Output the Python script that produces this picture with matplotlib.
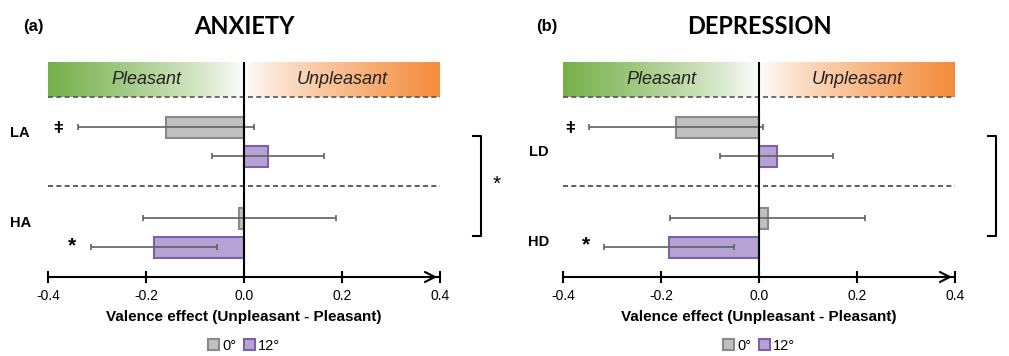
import numpy as np
import matplotlib.pyplot as plt
from matplotlib.patches import Patch

plt.rcParams['font.family'] = ['Liberation Sans', 'DejaVu Sans']

# Valence effect (Unpleasant - Pleasant) per group, 0 deg and 12 deg conditions
anx_groups = ['LA', 'HA']
anx_0 = [-0.159, -0.010]
anx_0_err = [0.179, 0.197]
anx_12 = [0.049, -0.184]
anx_12_err = [0.115, 0.128]

dep_groups = ['LD', 'HD']
dep_0 = [-0.169, 0.018]
dep_0_err = [0.178, 0.199]
dep_12 = [0.036, -0.184]
dep_12_err = [0.115, 0.133]

xticks = [-0.4, -0.2, 0.0, 0.2, 0.4]
legend_labels = ['0°', '12°']

GRAY, GRAY_E = '#c0c0c0', '#8a8a8a'
PURP, PURP_E = '#b5a3d6', '#7c60a8'
centers = np.array([4.67, 1.53])
off = 0.5
band_lo, band_hi = 6.2, 7.42

W, H = 1009, 356
fig = plt.figure(figsize=(W / 100, H / 100), dpi=100)


def gradient_band(ax):
    n = 256
    t = np.linspace(0, 1, n)
    green = np.array([118, 176, 74]) / 255
    orange = np.array([244, 140, 60]) / 255
    white = np.ones(3)
    img = np.zeros((1, n, 3))
    for i, v in enumerate(t):
        if v < 0.5:
            a = (1 - v / 0.5) ** 0.8
            img[0, i] = white * (1 - a) + green * a
        else:
            a = ((v - 0.5) / 0.5) ** 0.8
            img[0, i] = white * (1 - a) + orange * a
    ax.imshow(img, extent=(-0.4, 0.4, band_lo, band_hi), aspect='auto', zorder=0)
    ax.text(-0.2, (band_lo + band_hi) / 2, 'Pleasant', style='italic', fontsize=13,
            ha='center', va='center', color='#222222')
    ax.text(0.2, (band_lo + band_hi) / 2, 'Unpleasant', style='italic', fontsize=13,
            ha='center', va='center', color='#222222')
    ax.plot([-0.4, 0.4], [band_lo, band_lo], ls=(0, (3, 2)), color='#555555', lw=1.2)


def panel(left, groups, v0, e0, v12, e12, title, tag, tagx, lab_x, lab_dy, marks, bracket_star):
    ax = fig.add_axes([left / W, 1 - 277 / H, 392 / W, 215 / H])
    ax.set_xlim(-0.4, 0.4)
    ax.set_ylim(0, band_hi)
    gradient_band(ax)
    ekw = dict(ecolor='#606060', elinewidth=1.2, capsize=2.5, capthick=1.2)
    ax.barh(centers + off, v0, height=0.72, xerr=e0, color=GRAY, edgecolor=GRAY_E,
            linewidth=1.5, error_kw=ekw, zorder=2)
    ax.barh(centers - off, v12, height=0.72, xerr=e12, color=PURP, edgecolor=PURP_E,
            linewidth=1.5, error_kw=ekw, zorder=2)
    ax.axvline(0, color='black', lw=1.5, zorder=3)
    ax.plot([-0.4, 0.4], [3.14, 3.14], ls=(0, (3, 2)), color='#444444', lw=1.2)

    for g, c, dy in zip(groups, centers, lab_dy):
        ax.text(lab_x, c + dy, g, transform=ax.get_yaxis_transform(), fontsize=10.5,
                fontweight='bold', ha='center', va='center')
    for sym, x, y, fs in marks:
        ax.text(x, y, sym, fontsize=fs, ha='center', va='center', fontweight='bold')

    # bracket between groups for the 12 deg condition
    bx = 0.484
    ax.plot([0.467, bx, bx, 0.467], [4.85, 4.85, 1.4, 1.4], color='black', lw=1.5,
            clip_on=False)
    if bracket_star:
        ax.text(0.516, 3.2, '*', fontsize=15, ha='center', va='center', clip_on=False)

    for s in ['top', 'right', 'left']:
        ax.spines[s].set_visible(False)
    ax.spines['bottom'].set_linewidth(1.5)
    ax.set_yticks([])
    ax.set_xticks(xticks)
    ax.set_xticklabels([f'{t:.1f}' for t in xticks], fontsize=10)
    ax.tick_params(axis='x', direction='inout', length=9, width=1.5, pad=4)
    ax.annotate('', xy=(0.4, 0), xytext=(0.37, 0), xycoords='data',
                arrowprops=dict(arrowstyle='->', lw=1.5, color='black', mutation_scale=18),
                annotation_clip=False)
    ax.set_xlabel('Valence effect (Unpleasant - Pleasant)', fontsize=11,
                  fontweight='bold', labelpad=5)
    handles = [Patch(facecolor=GRAY, edgecolor=GRAY_E, lw=1.5),
               Patch(facecolor=PURP, edgecolor=PURP_E, lw=1.5)]
    ax.legend(handles, legend_labels, loc='center', bbox_to_anchor=(0.5, -0.32), ncol=2,
              frameon=False, fontsize=10.5, handlelength=0.75, handleheight=0.75,
              handletextpad=0.2, columnspacing=0.5, borderaxespad=0)
    fig.text((left + 196) / W, 1 - 26 / H, title, fontsize=17, fontweight='bold',
             family='Lato', ha='center', va='center')
    fig.text(tagx / W, 1 - 26 / H, tag, fontsize=12, fontweight='bold',
             ha='center', va='center')
    return ax


panel(48, anx_groups, anx_0, anx_0_err, anx_12, anx_12_err, 'ANXIETY', '(a)', 33,
      -0.071, [0.3, 0.33], [('ǂ', -0.38, 5.14, 12), ('*', -0.351, 1.07, 15)], True)
panel(563, dep_groups, dep_0, dep_0_err, dep_12, dep_12_err, 'DEPRESSION', '(b)', 547,
      -0.061, [-0.36, -0.33], [('ǂ', -0.386, 5.14, 12), ('*', -0.353, 1.12, 15)], False)

fig.savefig('out.png', dpi=100)
